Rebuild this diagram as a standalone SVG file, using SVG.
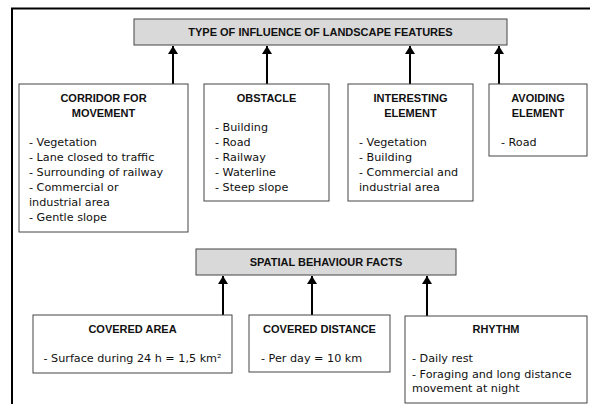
<svg xmlns="http://www.w3.org/2000/svg" width="590" height="404" viewBox="0 0 590 404">
<defs>
<marker id="ah" viewBox="0 0 8 10" refX="8" refY="5" markerWidth="8" markerHeight="10" markerUnits="userSpaceOnUse" orient="auto">
<path d="M0,0 L8,5 L0,10 Z" fill="#000"/>
</marker>
<style>
.box{fill:#fff;stroke:#444;stroke-width:1}
.hdr{fill:#d9d9d9;stroke:#444;stroke-width:1}
.t{font-family:"Liberation Sans",Arial,sans-serif;font-weight:bold;font-size:11px;fill:#111;text-anchor:middle}
.b{font-family:"DejaVu Sans",Verdana,sans-serif;font-size:11.2px;fill:#111}
.c{stroke:#000;stroke-width:2;fill:none}
</style>
</defs>
<rect width="590" height="404" fill="#fff"/>
<path d="M12,404 L12,8.5 L590,8.5" stroke="#000" stroke-width="2" fill="none"/>

<g id="connectors">
<line class="c" x1="173" y1="84" x2="173" y2="46" marker-end="url(#ah)"/>
<line class="c" x1="267" y1="84" x2="267" y2="46" marker-end="url(#ah)"/>
<line class="c" x1="410" y1="84" x2="410" y2="46" marker-end="url(#ah)"/>
<line class="c" x1="499" y1="84" x2="499" y2="46" marker-end="url(#ah)"/>
<line class="c" x1="223" y1="315" x2="223" y2="276" marker-end="url(#ah)"/>
<line class="c" x1="312" y1="315" x2="312" y2="276" marker-end="url(#ah)"/>
<line class="c" x1="427" y1="316" x2="427" y2="276" marker-end="url(#ah)"/>
</g>

<g id="type-of-influence">
<rect class="hdr" x="134" y="19" width="373" height="26"/>
<text class="t" x="320.5" y="36">TYPE OF INFLUENCE OF LANDSCAPE FEATURES</text>
</g>

<g id="corridor">
<rect class="box" x="19" y="84" width="169" height="148"/>
<text class="t" x="103.5" y="102">CORRIDOR FOR</text>
<text class="t" x="103.5" y="117">MOVEMENT</text>
<text class="b" x="29" y="146">- Vegetation</text>
<text class="b" x="29" y="161">- Lane closed to traffic</text>
<text class="b" x="29" y="176">- Surrounding of railway</text>
<text class="b" x="29" y="191">- Commercial or</text>
<text class="b" x="29" y="206">industrial area</text>
<text class="b" x="29" y="221">- Gentle slope</text>
</g>

<g id="obstacle">
<rect class="box" x="204" y="84" width="125" height="117"/>
<text class="t" x="266.5" y="102">OBSTACLE</text>
<text class="b" x="215" y="131">- Building</text>
<text class="b" x="215" y="146">- Road</text>
<text class="b" x="215" y="161">- Railway</text>
<text class="b" x="215" y="176">- Waterline</text>
<text class="b" x="215" y="191">- Steep slope</text>
</g>

<g id="interesting">
<rect class="box" x="348" y="84" width="125" height="117"/>
<text class="t" x="410.5" y="102">INTERESTING</text>
<text class="t" x="410.5" y="117">ELEMENT</text>
<text class="b" x="359" y="146">- Vegetation</text>
<text class="b" x="359" y="161">- Building</text>
<text class="b" x="359" y="176">- Commercial and</text>
<text class="b" x="359" y="191">industrial area</text>
</g>

<g id="avoiding">
<rect class="box" x="489" y="84" width="98" height="72"/>
<text class="t" x="538" y="102">AVOIDING</text>
<text class="t" x="538" y="117">ELEMENT</text>
<text class="b" x="501" y="146">- Road</text>
</g>

<g id="spatial-behaviour">
<rect class="hdr" x="196" y="249" width="260" height="26"/>
<text class="t" x="326" y="266">SPATIAL BEHAVIOUR FACTS</text>
</g>

<g id="covered-area">
<rect class="box" x="33" y="315" width="199" height="58"/>
<text class="t" x="132.5" y="333">COVERED AREA</text>
<text class="b" x="132.5" y="362" text-anchor="middle">- Surface during 24 h = 1,5 km²</text>
</g>

<g id="covered-distance">
<rect class="box" x="249" y="315" width="141" height="57"/>
<text class="t" x="319.5" y="333">COVERED DISTANCE</text>
<text class="b" x="261" y="362">- Per day = 10 km</text>
</g>

<g id="rhythm">
<rect class="box" x="405" y="316" width="182" height="87"/>
<text class="t" x="496" y="333">RHYTHM</text>
<text class="b" x="412" y="362">- Daily rest</text>
<text class="b" x="412" y="378">- Foraging and long distance</text>
<text class="b" x="412" y="392">movement at night</text>
</g>
</svg>
